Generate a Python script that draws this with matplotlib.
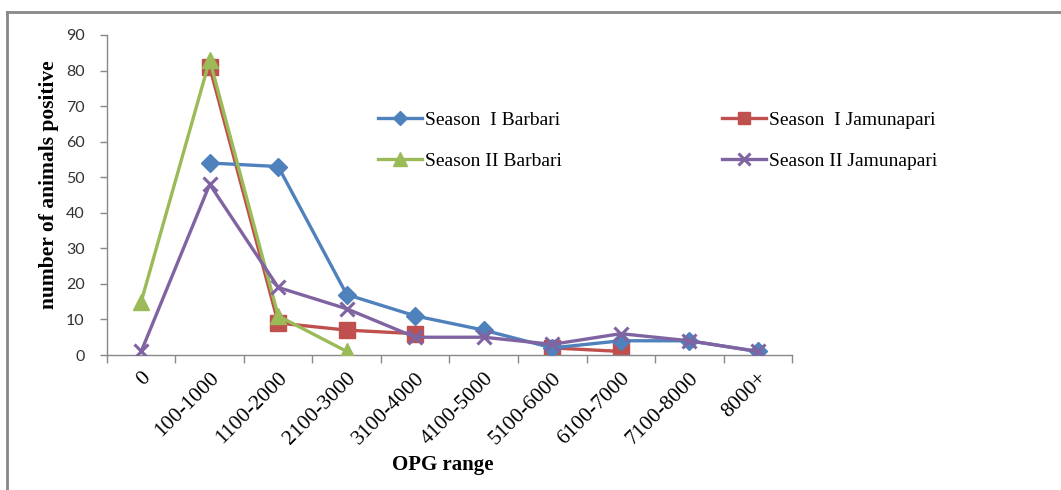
import matplotlib
matplotlib.use("Agg")
import matplotlib.pyplot as plt
from matplotlib.lines import Line2D
import numpy as np

categories = ["0", "100-1000", "1100-2000", "2100-3000", "3100-4000", "4100-5000",
              "5100-6000", "6100-7000", "7100-8000", "8000+"]
s1_barbari = [None, 54, 53, 17, 11, 7, 2, 4, 4, 1]
s1_jamunapari = [None, 81, 9, 7, 6, None, 2, 1, None, None]
s2_barbari = [15, 83, 11, 1, None, None, None, None, None, None]
s2_jamunapari = [1, 48, 19, 13, 5, 5, 3, 6, 4, 1]
yticks = [0, 10, 20, 30, 40, 50, 60, 70, 80, 90]

def arr(v):
    return np.array([np.nan if x is None else x for x in v], dtype=float)

fig = plt.figure(figsize=(10.61, 4.9), dpi=100)
ax = fig.add_axes([0.1008, 0.2755, 0.6457, 0.6531])

x = np.arange(len(categories))
serif = "Liberation Serif"

def plot_series(vals, color, marker, ms, label, mew=1.0, z=2):
    a = arr(vals)
    ax.plot(x, a, color=color, lw=2.4, marker=marker, ms=ms,
            mec=color, mfc=color, mew=mew, label=label, zorder=z)

blue = "#4F81BD"; red = "#C0504D"; green = "#9BBB59"; purple = "#8064A2"
plot_series(s1_barbari, blue, "D", 9, "Season  I Barbari", z=3)
plot_series(s1_jamunapari, red, "s", 11, "Season  I Jamunapari", z=2)
plot_series(s2_barbari, green, "^", 12, "Season II Barbari", z=4)
plot_series(s2_jamunapari, purple, "x", 10, "Season II Jamunapari", mew=2.2, z=5)

ax.set_xlim(-0.5, len(categories) - 0.5)
ax.set_ylim(0, 90)
ax.set_yticks(yticks)
ax.set_yticklabels([str(t) for t in yticks], fontsize=11.5, family="Lato", color="#333333")
ax.set_xticks(x)
ax.set_xticklabels(categories, fontsize=15.5, family=serif, rotation=45,
                   ha="right", va="top", rotation_mode="anchor")
ax.set_xticks(np.arange(-0.5, len(categories), 1.0), minor=True)
ax.tick_params(axis="x", which="major", length=0, pad=10)
ax.tick_params(axis="x", which="minor", length=6, color="#888888", width=1)
ax.tick_params(axis="y", length=5, color="#888888", width=1, pad=11, direction="out")

for s in ["top", "right"]:
    ax.spines[s].set_visible(False)
for s in ["left", "bottom"]:
    ax.spines[s].set_color("#888888")
    ax.spines[s].set_linewidth(1)

ax.set_xlabel("OPG range", fontsize=15, family=serif, fontweight="bold")
ax.set_ylabel("number of animals positive", fontsize=15.5, family=serif, fontweight="bold")
ax.xaxis.set_label_coords(0.4905, -0.3125)
ax.yaxis.set_label_coords(-0.070, 0.531)

handles, labels = ax.get_legend_handles_labels()
order = [0, 2, 1, 3]
leg = fig.legend([handles[i] for i in order], [labels[i] for i in order],
                 ncol=2, frameon=False, prop={"family": serif, "size": 14},
                 loc="upper left", bbox_to_anchor=(0.3395, 0.808),
                 handlelength=2.3, handletextpad=0.15, columnspacing=8.2,
                 labelspacing=1.2, markerscale=0.8)

# figure border
fig.add_artist(Line2D([0.0066, 1.0], [0.9755, 0.9755], transform=fig.transFigure,
                      color="#888888", lw=2))
fig.add_artist(Line2D([0.0066, 0.0066], [0.0, 0.9755], transform=fig.transFigure,
                      color="#888888", lw=2))

fig.savefig("out.png", dpi=100)
